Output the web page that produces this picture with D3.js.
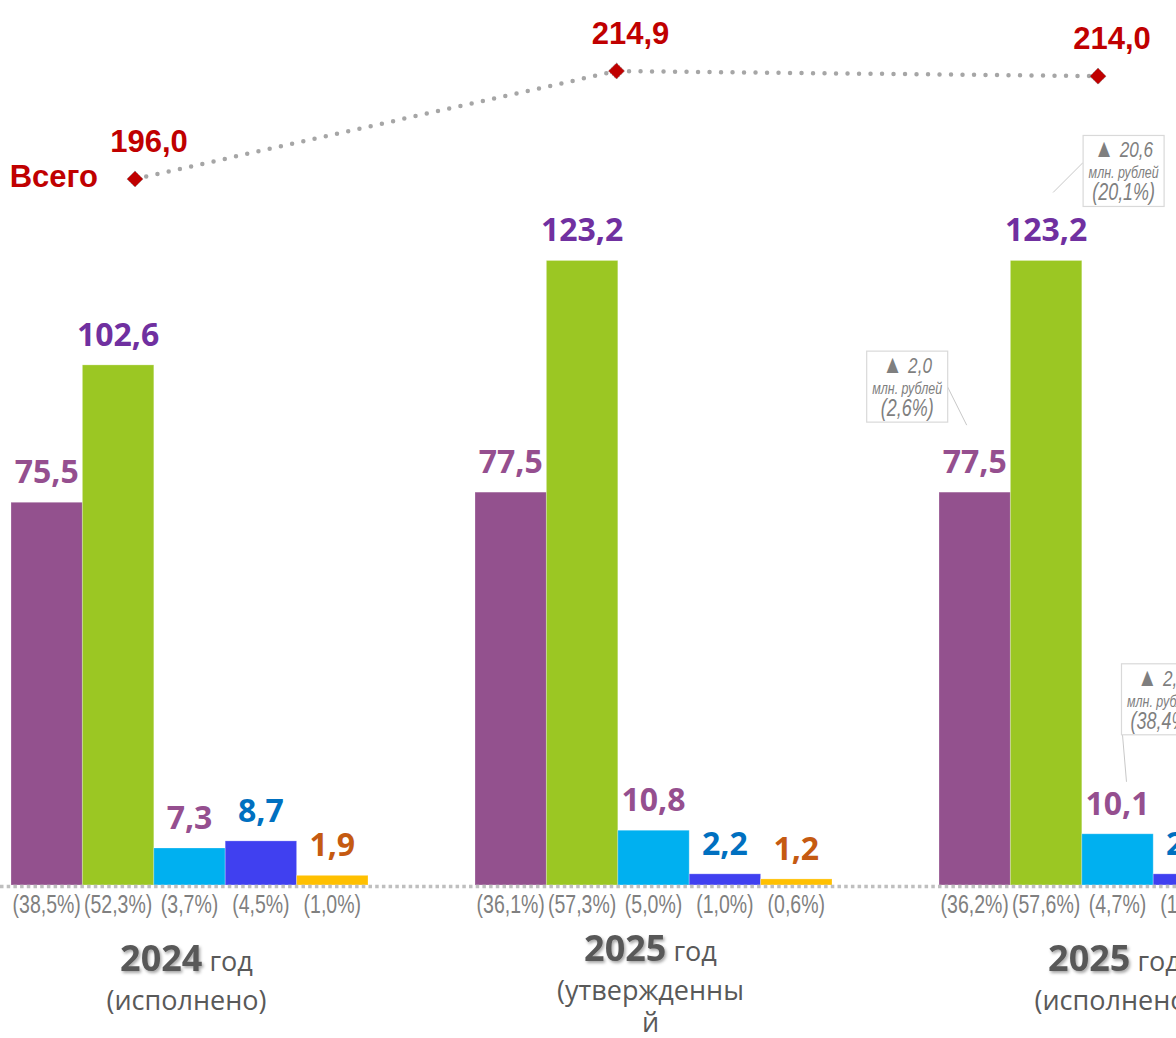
<!DOCTYPE html>
<html lang="ru">
<head>
<meta charset="utf-8">
<script src="https://cdn.jsdelivr.net/npm/d3@7/dist/d3.min.js"></script>
<style>
  html, body {
    margin: 0;
    padding: 0;
    background: #ffffff;
  }

  #chart {
    display: block;
    overflow: hidden;
  }

  .bar-label {
    font-family: "Open Sans", "Noto Sans", sans-serif;
    font-weight: 700;
    font-size: 32px;
  }

  .share-label {
    font-family: "Liberation Sans", Arial, sans-serif;
    font-size: 25px;
    fill: #808080;
  }

  .total-label {
    font-family: "Liberation Sans", Arial, sans-serif;
    font-weight: 700;
    font-size: 31px;
    fill: #c00000;
  }

  .cat-year {
    font-family: "Open Sans", "Noto Sans", sans-serif;
    font-weight: 700;
    font-size: 36px;
    fill: #595959;
  }

  .cat-text {
    font-family: "Open Sans", "Noto Sans", sans-serif;
    font-size: 27px;
    fill: #595959;
  }

  .note {
    font-family: "Liberation Sans", Arial, sans-serif;
    font-style: italic;
    fill: #7f7f7f;
  }
</style>
</head>
<body>
<svg id="chart" width="1176" height="1038"></svg>
<script>
// === data ===
const groups = ["2024", "2025plan", "2025fact"];
const years = ["2024", "2025", "2025"];
const groupNotes = [["(исполнено)"], ["(утвержденны", "й"], ["(исполнено)"]];

const seriesKeys = ["s1", "s2", "s3", "s4", "s5"];
const s1Values = [75.5, 77.5, 77.5];
const s2Values = [102.6, 123.2, 123.2];
const s3Values = [7.3, 10.8, 10.1];
const s4Values = [8.7, 2.2, 2.2];
const s5Values = [1.9, 1.2, 1.0];

const s1Shares = [38.5, 36.1, 36.2];
const s2Shares = [52.3, 57.3, 57.6];
const s3Shares = [3.7, 5.0, 4.7];
const s4Shares = [4.5, 1.0, 1.0];
const s5Shares = [1.0, 0.6, 0.5];

const totals = [196.0, 214.9, 214.0];
const totalName = "Всего";

// changes 2025 (исполнено) vs 2024
const noteSeries = ["s2", "s1", "s3"];
const noteDeltas = [20.6, 2.0, 2.8];
const notePercents = [20.1, 2.6, 38.4];

// === styles / layout ===
const barColors = ["#93518e", "#9bc723", "#00b0f0", "#4040f0", "#ffc000"];
const labelColors = ["#954f8f", "#7030a0", "#954f8f", "#0070c0", "#c55a11"];

// callout placement relative to bar centre / bar top
const noteLayout = [
  { bx: 37, by: -125, ax: 0, ay: 27, lx: 7, ly: -68 },
  { bx: -108, by: -141, ax: 81, ay: 36, lx: -8, ly: -67 },
  { bx: 4, by: -170, ax: 1, ay: 71, lx: 9, ly: -52 },
];

const W = 1176;
const H = 1038;
const baseY = 885;
const narrow = 0.78; // no Arial Narrow installed: squeeze Liberation Sans

const valuesBySeries = [s1Values, s2Values, s3Values, s4Values, s5Values];
const sharesBySeries = [s1Shares, s2Shares, s3Shares, s4Shares, s5Shares];

const fmt = d3.formatLocale({
  decimal: ",",
  thousands: " ",
  grouping: [3],
  currency: ["", ""],
}).format(".1f");

const rows = [];
groups.forEach((g, gi) => {
  seriesKeys.forEach((k, si) => {
    rows.push({
      group: g,
      key: k,
      si: si,
      value: valuesBySeries[si][gi],
      share: sharesBySeries[si][gi],
    });
  });
});

const svg = d3.select("#chart").attr("viewBox", `0 0 ${W} ${H}`);

const defs = svg.append("defs");
defs
  .append("filter")
  .attr("id", "year-shadow")
  .attr("x", "-20%")
  .attr("y", "-20%")
  .attr("width", "140%")
  .attr("height", "150%")
  .append("feDropShadow")
  .attr("dx", 1.5)
  .attr("dy", 2)
  .attr("stdDeviation", 1.4)
  .attr("flood-color", "#000")
  .attr("flood-opacity", 0.35);

// === scales ===
const x0 = d3
  .scaleBand()
  .domain(groups)
  .range([11, 1296])
  .paddingInner(0.2306)
  .paddingOuter(0);

const x1 = d3
  .scaleBand()
  .domain(seriesKeys)
  .range([0, x0.bandwidth()])
  .padding(0);

const y = d3.scaleLinear().domain([0, 130]).range([baseY, 226]);

const xLine = d3.scalePoint().domain(groups).range([135, 1098]);
const yLine = d3.scaleLinear().domain([190, 220]).range([213.3, 41.9]);

const barX = (d) => x0(d.group) + x1(d.key);
const barCx = (d) => barX(d) + x1.bandwidth() / 2;

//=== bars ===
svg
  .append("g")
  .selectAll("rect")
  .data(rows)
  .join("rect")
  .attr("x", (d) => barX(d))
  .attr("y", (d) => y(d.value))
  .attr("width", x1.bandwidth())
  .attr("height", (d) => baseY - y(d.value))
  .attr("fill", (d) => barColors[d.si])
  .attr("stroke", "#ffffff")
  .attr("stroke-opacity", 0.25)
  .attr("stroke-width", 1);

//=== baseline ===
svg
  .append("line")
  .attr("x1", 0)
  .attr("x2", W)
  .attr("y1", baseY + 1.5)
  .attr("y2", baseY + 1.5)
  .attr("stroke", "#bfbfbf")
  .attr("stroke-width", 3.5)
  .attr("stroke-dasharray", "3.5 3.2");

//=== value labels ===
svg
  .append("g")
  .selectAll("text")
  .data(rows)
  .join("text")
  .attr("class", "bar-label")
  .attr("x", (d) => barCx(d))
  .attr("y", (d) => y(d.value) - 19)
  .attr("text-anchor", "middle")
  .attr("fill", (d) => labelColors[d.si])
  .text((d) => fmt(d.value));

//=== shares ===
svg
  .append("g")
  .selectAll("text")
  .data(rows)
  .join("text")
  .attr("class", "share-label")
  .attr("transform", (d) => `translate(${barCx(d)},${baseY + 28}) scale(${narrow},1)`)
  .attr("text-anchor", "middle")
  .text((d) => `(${fmt(d.share)}%)`);

//=== category labels ===
groups.forEach((g, gi) => {
  const cx = x0(g) + x0.bandwidth() / 2 - 3;
  const notes = groupNotes[gi];
  const first = 971 - 10 * (notes.length - 1);
  const t = svg
    .append("text")
    .attr("x", cx)
    .attr("y", first)
    .attr("text-anchor", "middle");
  t.append("tspan")
    .attr("class", "cat-year")
    .attr("filter", "url(#year-shadow)")
    .text(years[gi]);
  t.append("tspan").attr("class", "cat-text").attr("font-size", 25).text(" год");

  notes.forEach((line, li) => {
    svg
      .append("text")
      .attr("class", "cat-text")
      .attr("x", cx)
      .attr("y", first + 39 + li * 32)
      .attr("text-anchor", "middle")
      .text(line);
  });
});

//=== total line ===
const line = d3
  .line()
  .x((d, i) => xLine(groups[i]))
  .y((d) => yLine(d));

svg
  .append("path")
  .datum(totals)
  .attr("d", line)
  .attr("fill", "none")
  .attr("stroke", "#a6a6a6")
  .attr("stroke-width", 4.5)
  .attr("stroke-linecap", "round")
  .attr("stroke-dasharray", "0 11.5");

svg
  .append("g")
  .selectAll("path")
  .data(totals)
  .join("path")
  .attr("d", d3.symbol(d3.symbolSquare, 130))
  .attr(
    "transform",
    (d, i) => `translate(${xLine(groups[i])},${yLine(d)}) rotate(45)`
  )
  .attr("fill", "#c00000")
  .attr("stroke", "#7f7f7f")
  .attr("stroke-width", 0.8)
  .attr("stroke-dasharray", "1.5 1.5");

svg
  .append("g")
  .selectAll("text")
  .data(totals)
  .join("text")
  .attr("class", "total-label")
  .attr("x", (d, i) => xLine(groups[i]) + 14)
  .attr("y", (d) => yLine(d) - 27)
  .attr("text-anchor", "middle")
  .text((d) => fmt(d));

svg
  .append("text")
  .attr("class", "total-label")
  .attr("font-size", 26)
  .attr("x", xLine(groups[0]) - 37)
  .attr("y", yLine(totals[0]) + 8)
  .attr("text-anchor", "end")
  .text(totalName);

//=== change callouts ===
const lastGroup = groups[groups.length - 1];
noteSeries.forEach((key, ni) => {
  const d = rows.find((r) => r.group === lastGroup && r.key === key);
  const cx = barCx(d);
  const top = y(d.value);
  const L = noteLayout[ni];
  const bx = cx + L.bx;
  const by = top + L.by;

  svg
    .append("line")
    .attr("x1", bx + L.ax)
    .attr("y1", by + L.ay)
    .attr("x2", cx + L.lx)
    .attr("y2", top + L.ly)
    .attr("stroke", "#c8c8c8")
    .attr("stroke-width", 1);

  svg
    .append("rect")
    .attr("x", bx)
    .attr("y", by)
    .attr("width", 81)
    .attr("height", 71)
    .attr("fill", "#ffffff")
    .attr("stroke", "#d9d9d9")
    .attr("stroke-width", 1.2);

  const mid = bx + 40.5;
  const t1 = svg
    .append("text")
    .attr("class", "note")
    .attr("transform", `translate(${mid},${by + 22}) scale(${narrow},1)`)
    .attr("text-anchor", "middle")
    .attr("font-size", 22);
  t1.append("tspan")
    .attr("font-style", "normal")
    .attr("font-size", 26)
    .attr("fill", "#7f7f7f")
    .text("▲ ");
  t1.append("tspan").text(fmt(noteDeltas[ni]));

  svg
    .append("text")
    .attr("class", "note")
    .attr("transform", `translate(${mid},${by + 43}) scale(${narrow},1)`)
    .attr("text-anchor", "middle")
    .attr("font-size", 16)
    .text("млн. рублей");

  svg
    .append("text")
    .attr("class", "note")
    .attr("transform", `translate(${mid},${by + 65}) scale(${narrow},1)`)
    .attr("text-anchor", "middle")
    .attr("font-size", 23)
    .text(`(${fmt(notePercents[ni])}%)`);
});
</script>
</body>
</html>
